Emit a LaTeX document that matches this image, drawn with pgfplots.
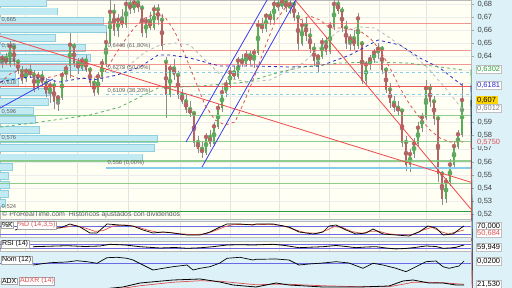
\documentclass[border=0pt]{standalone}
\usepackage{fontspec}
\setmainfont{Liberation Sans}
\usepackage{pgfplots}
\pgfplotsset{compat=1.18}
\usepackage{pgfplotstable}
\usepgfplotslibrary{fillbetween}
\definecolor{cream}{HTML}{FFFFF4}
\definecolor{rightbg}{HTML}{DDF2F8}
\definecolor{histfill}{HTML}{C2EAF3}
\definecolor{histdraw}{HTML}{8ECFE0}
\definecolor{hred}{HTML}{EE6A6A}
\definecolor{hgreen}{HTML}{7CC47C}
\definecolor{dgreen}{HTML}{2E9E3E}
\definecolor{fibblue}{HTML}{86CDEB}
\definecolor{upc}{HTML}{5AAE5A}
\definecolor{dnc}{HTML}{B56464}
\definecolor{wick}{HTML}{8C8C8C}
\definecolor{navy}{HTML}{2B2BC8}
\definecolor{chanblue}{HTML}{3A3AF0}
\definecolor{trendred}{HTML}{F04848}
\definecolor{lvlblue}{HTML}{6A6AE6}
\definecolor{dred}{HTML}{E05050}
\definecolor{momgreen}{HTML}{8DC58D}
\definecolor{momred}{HTML}{CC9898}
\definecolor{lblgray}{HTML}{606060}

\pgfplotstableread{
x o h l c
2 .636 .641 .631 .639
6 .639 .643 .634 .635
10 .634 .652 .632 .648
14 .647 .649 .633 .636
18 .636 .638 .627 .629
22 .629 .633 .619 .622
26 .623 .631 .621 .629
30 .629 .634 .624 .626
34 .626 .630 .613 .616
38 .617 .628 .615 .625
42 .625 .629 .617 .620
46 .620 .624 .609 .612
50 .612 .621 .605 .618
54 .618 .622 .600 .606
58 .606 .611 .599 .609
62 .609 .628 .607 .626
66 .626 .634 .622 .631
70 .633 .658 .624 .649
74 .648 .650 .632 .635
78 .635 .639 .627 .631
82 .631 .640 .629 .637
86 .637 .641 .628 .630
90 .630 .632 .617 .620
94 .620 .624 .610 .613
98 .613 .628 .611 .625
102 .625 .638 .621 .635
106 .635 .659 .632 .651
110 .651 .683 .648 .674
114 .674 .680 .656 .660
118 .660 .672 .655 .668
122 .668 .676 .662 .664
126 .664 .684 .662 .680
130 .680 .684 .672 .676
134 .676 .684 .673 .681
138 .681 .684 .674 .677
142 .677 .679 .655 .658
146 .658 .670 .654 .667
150 .667 .674 .660 .662
154 .662 .679 .660 .676
158 .676 .680 .664 .668
162 .668 .672 .645 .648
166 .636 .640 .593 .611
170 .611 .634 .609 .631
174 .631 .638 .622 .626
178 .626 .629 .608 .611
182 .611 .615 .604 .606
186 .606 .611 .597 .600
190 .600 .606 .594 .597
194 .597 .599 .571 .575
198 .575 .580 .567 .570
202 .570 .576 .563 .567
206 .567 .582 .565 .579
210 .579 .584 .571 .574
214 .574 .590 .572 .587
218 .587 .604 .585 .601
222 .601 .617 .598 .613
226 .613 .622 .609 .619
230 .619 .632 .616 .628
234 .628 .633 .622 .625
238 .625 .640 .623 .637
242 .637 .642 .632 .635
246 .635 .645 .633 .641
250 .641 .644 .634 .637
254 .637 .646 .631 .643
258 .643 .668 .641 .664
262 .664 .669 .658 .661
266 .661 .673 .659 .671
270 .671 .675 .664 .668
274 .668 .684 .666 .680
278 .680 .684 .675 .678
282 .678 .684 .676 .682
286 .682 .684 .674 .677
290 .677 .684 .672 .680
294 .680 .682 .667 .670
298 .670 .674 .645 .650
302 .650 .668 .648 .664
306 .664 .670 .652 .656
310 .656 .662 .643 .646
314 .646 .650 .633 .637
318 .637 .642 .628 .640
322 .640 .654 .638 .651
326 .651 .655 .641 .644
330 .644 .666 .642 .663
334 .663 .684 .660 .680
338 .680 .684 .672 .675
342 .675 .678 .659 .662
346 .662 .667 .646 .650
350 .650 .657 .644 .654
354 .654 .660 .645 .648
358 .648 .673 .646 .669
362 .650 .652 .619 .622
366 .622 .637 .619 .634
370 .634 .641 .630 .638
374 .638 .646 .635 .643
378 .643 .650 .638 .646
382 .646 .648 .627 .630
386 .630 .632 .612 .615
390 .615 .620 .601 .605
394 .605 .610 .598 .601
398 .601 .606 .596 .599
402 .599 .600 .571 .575
406 .575 .580 .553 .558
410 .558 .570 .552 .566
414 .566 .578 .563 .574
418 .574 .590 .572 .586
422 .586 .597 .583 .594
426 .594 .622 .592 .616
430 .616 .619 .602 .606
434 .606 .610 .588 .593
438 .593 .596 .545 .551
442 .551 .553 .527 .532
446 .532 .548 .529 .545
450 .545 .562 .542 .558
454 .558 .576 .556 .572
458 .572 .584 .570 .581
462 .581 .620 .579 .607
}\candles

% volume-by-price histogram: bottom, top, length
\pgfplotstableread{
lo hi len
.5249 .5325 5
.5325 .5386 8
.5386 .5462 9
.5462 .5523 8
.5523 .5599 12
.5599 .5667 142
.5667 .5743 154
.5743 .5804 157
.5804 .5880 39
.5880 .5956 35
.5956 .6017 33
.6017 .6093 48
.6093 .6169 50
.6169 .6230 18
.6230 .6290 15
.6290 .6351 85
.6351 .6427 90
.6427 .6503 85
.6503 .6579 55
.6579 .6640 106
.6640 .6701 103
.6701 .6784 57
.6784 .6830 46
}\histtab

\pgfplotstableread{
x v
33 -0.02
50 0.003
67 0.01
77 0.023
87 0.013
97 -0.003
107 0.053
117 0.057
127 0.047
133 0.03
143 -0.02
153 -0.07
163 -0.053
173 -0.037
187 -0.02
193 -0.07
200 -0.053
210 -0.037
220 0.0
227 0.047
240 0.057
253 0.03
256 0.037
276 0.04
289 0.03
299 -0.02
309 -0.01
323 0.0
336 0.013
349 0.0
363 -0.053
373 -0.003
383 -0.02
396 -0.053
406 -0.087
416 -0.037
426 0.013
436 0.02
443 -0.037
449 -0.053
459 -0.03
464 0.02
}\momtab

\pgfplotstableread{
x v
60 14
100 15
123 19.5
140 27.5
173 33.5
200 35.5
220 29.5
233 23.5
256 19.5
276 27.5
289 23.5
323 19.5
360 19.5
389 21.5
403 31.5
413 33.5
429 27.5
443 27.5
456 23.5
464 23.5
}\adxtab

\pgfplotstableread{
x v
60 14
100 15
123 17
140 22
173 29
200 32
220 31
240 27
256 24
276 25
289 25
323 22
360 20
389 20
403 25
413 29
429 29
443 28
456 26
464 25
}\adxrtab

\pgfplotsset{
  indstyle/.style={scale only axis, width=471pt, xmin=0, xmax=471,
    axis background/.style={fill=cream},
    axis line style={draw=gray!55, line width=0.4pt},
    xtick={25,77,128,180,230,279,329,379,426}, xticklabels={}, xtick style={draw=none},
    xmajorgrids, ytick=\empty, grid style={draw=gray!22, line width=0.4pt},
    clip mode=individual}
}
\tikzset{
  lab/.style={draw=gray!70, fill=white, font=\fontsize{7}{8}\selectfont, inner sep=0.8pt, anchor=west},
  rlab/.style={draw=gray!50, fill=white, font=\fontsize{7.5}{8}\selectfont, inner sep=1pt, anchor=west},
  llab/.style={font=\fontsize{5.8}{6}\selectfont, text=lblgray, inner sep=0.5pt, anchor=south west}
}

\begin{document}
\begin{tikzpicture}
\fill[rightbg] (0pt,0pt) rectangle (512pt,-288pt);

% main price axis
\begin{axis}[at={(0pt,0pt)}, anchor=north west, scale only axis, width=471pt, height=219pt,
  xmin=0, xmax=471, ymin=0.5166, ymax=0.6830,
  axis background/.style={fill=cream},
  axis line style={draw=gray!55, line width=0.4pt}, clip mode=individual,
  xtick={25,77,128,180,230,279,329,379,426}, xticklabels={}, xtick style={draw=none}, xmajorgrids,
  ytick={0.52,0.53,0.54,0.55,0.56,0.57,0.58,0.59,0.64,0.65,0.66,0.67,0.68},
  minor ytick={0.52,0.53,0.54,0.55,0.56,0.57,0.58,0.59,0.60,0.61,0.62,0.63,0.64,0.65,0.66,0.67,0.68},
  yminorgrids, minor tick length=0pt,
  ytick pos=right, yticklabel pos=right, tick align=outside, major tick length=3pt,
  ytick style={draw=gray!70, line width=0.5pt},
  grid style={draw=gray!22, line width=0.4pt}, minor grid style={draw=gray!14, line width=0.3pt},
  scaled y ticks=false,
  yticklabel style={font=\fontsize{7.5}{8}\selectfont, text=black!75},
  /pgf/number format/fixed, /pgf/number format/precision=2, /pgf/number format/fixed zerofill,
  /pgf/number format/use comma, /pgf/number format/assume math mode=true]

% volume-by-price histogram as horizontal error-bar strips
\addplot[color=histdraw, only marks, mark=none, error bars/.cd, x dir=plus, x explicit, error mark=none,
  error bar style={color=histdraw, line width=7.6pt, solid, line cap=butt}]
  table[x expr=0, y expr={(\thisrow{lo}+\thisrow{hi})/2}, x error expr={\thisrow{len}+0.6}] {\histtab};
\addplot[color=histfill, only marks, mark=none, error bars/.cd, x dir=plus, x explicit, error mark=none,
  error bar style={color=histfill, line width=6.2pt, solid, line cap=butt}]
  table[x expr=0, y expr={(\thisrow{lo}+\thisrow{hi})/2}, x error expr={\thisrow{len}}] {\histtab};

% candles: wicks
\addplot[color=wick, only marks, mark=none, error bars/.cd, y dir=both, y explicit, error mark=none,
  error bar style={color=wick, line width=0.6pt, solid}]
  table[x=x, y expr={(\thisrow{h}+\thisrow{l})/2}, y error expr={(\thisrow{h}-\thisrow{l})/2}] {\candles};
% bodies outline
\addplot[color=wick, only marks, mark=none, error bars/.cd, y dir=both, y explicit, error mark=none,
  error bar style={color=wick, line width=2.8pt, solid}]
  table[x=x, y expr={(\thisrow{o}+\thisrow{c})/2}, y error expr={abs(\thisrow{c}-\thisrow{o})/2+0.0003}] {\candles};
% up bodies
\addplot[color=upc, only marks, mark=none,
  error bars/.cd, y dir=both, y explicit, error mark=none,
  error bar style={color=upc, line width=2.0pt, solid}]
  table[x=x, y expr={\thisrow{o}+max(\thisrow{c}-\thisrow{o},0)/2}, y error expr={max(\thisrow{c}-\thisrow{o},0)/2}] {\candles};
% down bodies
\addplot[color=dnc, only marks, mark=none,
  error bars/.cd, y dir=both, y explicit, error mark=none,
  error bar style={color=dnc, line width=2.0pt, solid}]
  table[x=x, y expr={\thisrow{c}+max(\thisrow{o}-\thisrow{c},0)/2}, y error expr={max(\thisrow{o}-\thisrow{c},0)/2}] {\candles};

% horizontal support / resistance lines
\addplot[hred, line width=1.0pt, opacity=0.7] coordinates {(0,0.665) (471,0.665)};
\addplot[hred, line width=1.0pt, opacity=0.7] coordinates {(0,0.645) (471,0.645)};
\addplot[hred, line width=1.0pt, opacity=0.7] coordinates {(0,0.634) (471,0.634)};
\addplot[trendred, line width=1.2pt, opacity=0.9] coordinates {(0,0.6172) (471,0.6172)};
\addplot[hgreen, line width=1.2pt, opacity=0.85] coordinates {(0,0.5951) (471,0.5951)};
\addplot[hgreen, line width=1.2pt, opacity=0.85] coordinates {(0,0.5753) (471,0.5753)};
\addplot[hgreen, line width=1.2pt, opacity=0.85] coordinates {(0,0.5606) (471,0.5606)};
\addplot[hgreen, line width=1.2pt, opacity=0.85] coordinates {(0,0.5437) (471,0.5437)};
\addplot[dgreen, line width=1.0pt] coordinates {(0,0.5226) (471,0.5226)};
% fibonacci
\addplot[fibblue, line width=0.8pt, dashed] coordinates {(106,0.6279) (471,0.6279)};
\addplot[fibblue, line width=0.8pt, dashed] coordinates {(106,0.6109) (471,0.6109)};
\addplot[fibblue, line width=1.5pt] coordinates {(106,0.5552) (471,0.5552)};

% trend lines
\addplot[trendred, line width=0.8pt] coordinates {(0,0.6556) (471,0.5445)};
\addplot[trendred, line width=0.8pt] coordinates {(290,0.6876) (471,0.5240)};
\addplot[chanblue, line width=0.8pt] coordinates {(186,0.5751) (267,0.6830)};
\addplot[chanblue, line width=0.8pt] coordinates {(202,0.5561) (296,0.6830)};
\addplot[chanblue, line width=0.8pt] coordinates {(0,0.6009) (53,0.6230)};

% dashed curves
\addplot[dred, line width=0.8pt, dashed] coordinates {(0,.6199) (10,.6268) (20,.6298) (30,.6290) (45,.6237) (55,.6252) (65,.6275) (80,.6230) (95,.6245) (102,.6237)};
\addplot[dred, line width=0.8pt, dashed] coordinates {(105,.6283) (115,.6412) (125,.6526) (135,.6625) (145,.6693) (155,.6724) (165,.6701) (175,.6587) (185,.6412) (195,.6222) (205,.6032) (215,.5918) (225,.5880) (235,.5903) (245,.6070) (255,.6260) (265,.6473) (275,.6663) (285,.6769) (292,.6800)};
\addplot[dred, line width=0.8pt, dashed] coordinates {(300,.6678) (310,.6708) (320,.6678) (330,.6617) (345,.6617) (360,.6594) (370,.6541) (380,.6450) (390,.6313) (400,.6161) (410,.6032) (420,.5933) (430,.5842) (440,.5781) (450,.5751) (463,.5751)};
\addplot[gray!55, line width=0.8pt, dashed] coordinates {(110,.6283) (127,.6321) (145,.6435) (160,.6488) (175,.6503) (190,.6488) (205,.6374) (223,.6245) (247,.6207) (270,.6222) (303,.6351) (337,.6587) (360,.6625) (375,.6617) (390,.6541) (407,.6450) (427,.6321) (447,.6146) (463,.5994)};
\addplot[navy, line width=0.8pt, dashed] coordinates {(0,.6207) (20,.6237) (30,.6245) (50,.6222) (60,.6207) (83,.6237) (93,.6222) (117,.6260) (140,.6321) (158,.6412) (170,.6412) (190,.6389) (220,.6328) (255,.6328) (290,.6321) (320,.6328) (350,.6412) (378,.6526) (400,.6488) (420,.6389) (440,.6313) (463,.6177)};
\addplot[dgreen!80, line width=0.8pt, dashed] coordinates {(0,.5865) (40,.5903) (90,.5956) (120,.6017) (158,.6161) (200,.6176) (247,.6207) (280,.6283) (303,.6321) (340,.6351) (373,.6359) (407,.6351) (440,.6321) (463,.6298)};

% left level labels
\node[llab] at (axis cs:1,0.6655) {0,665};
\node[llab] at (axis cs:1,0.6455) {0,645};
\node[llab] at (axis cs:1,0.6345) {0,634};
\node[llab] at (axis cs:1,0.6177) {0,618};
\node[llab] at (axis cs:1,0.5957) {0,596};
\node[llab] at (axis cs:1,0.5759) {0,576};
\node[llab] at (axis cs:1,0.5232) {0,524};
\node[llab] at (axis cs:107,0.6455) {0,6448 (61,80\%)};
\node[llab] at (axis cs:107,0.6284) {0,6279 (50,00\%)};
\node[llab] at (axis cs:107,0.6114) {0,6109 (38,20\%)};
\node[llab] at (axis cs:107,0.5562) {0,556 (0,00\%)};
\node[font=\fontsize{7}{8}\selectfont, text=lblgray, anchor=west, inner sep=0pt] at (axis cs:2,0.5202) {\textcopyright\ ProRealTime.com\ \ Históricos ajustados con dividendos};

% right value boxes
\draw[dgreen, line width=0.6pt] (axis cs:471,0.6302) -- ++(5pt,0);
\node[rlab, text=dgreen] at (axis cs:476,0.6302) {0,6302};
\draw[navy, line width=0.6pt] (axis cs:471,0.6181) -- ++(5pt,0);
\node[rlab, text=navy] at (axis cs:476,0.6181) {0,6181};
\draw[black, line width=0.6pt] (axis cs:471,0.607) -- ++(5pt,0);
\node[rlab, fill={rgb,255:red,255;green,214;blue,0}, draw=none] at (axis cs:476,0.6068) {0,607\,};
\draw[gray, line width=0.6pt] (axis cs:471,0.6012) -- ++(5pt,0);
\node[rlab, text=gray] at (axis cs:476,0.6006) {0,6012};
\draw[dred, line width=0.6pt] (axis cs:471,0.575) -- ++(5pt,0);
\node[rlab, text=dred, draw=none, fill=rightbg] at (axis cs:476,0.575) {0,5750};
\end{axis}

% %K / %D panel
\begin{axis}[at={(0pt,-221pt)}, anchor=north west, indstyle, height=16pt, ymin=-2.5, ymax=117.5]
\addplot[lvlblue, line width=0.8pt] coordinates {(0,80) (471,80)};
\addplot[lvlblue, line width=0.8pt] coordinates {(0,20) (471,20)};
\addplot[dred, line width=0.7pt] coordinates {(20,55) (35,70) (50,65) (65,70) (75,85) (85,65) (95,40) (103,45) (113,80) (125,88) (138,72) (148,48) (158,33) (168,33) (180,22) (192,15) (205,20) (215,45) (225,75) (233,90) (245,92) (258,90) (270,93) (283,82) (295,52) (305,30) (318,25) (327,50) (334,75) (342,70) (352,38) (362,25) (370,40) (378,42) (388,22) (400,12) (412,15) (423,50) (432,70) (440,40) (448,20) (456,35) (464,50)};
\addplot[black, line width=0.7pt] coordinates {(15,50) (30,80) (45,57.5) (60,65) (70,95) (80,72.5) (90,27.5) (97,27.5) (107,95) (120,87.5) (133,80) (143,50) (153,27.5) (163,35) (173,27.5) (187,12.5) (200,12.5) (210,35) (220,72.5) (227,95) (240,95) (253,87.5) (256,95) (273,95) (289,72.5) (299,35) (313,20) (323,35) (329,80) (336,87.5) (346,50) (356,20) (366,27.5) (373,57.5) (383,20) (396,12.5) (409,5) (419,35) (428,80) (436,65) (443,12.5) (453,20) (461,65) (464,80)};
\node[lab] at (axis cs:1,87.5) {\%K};
\node[lab, text=dred] at (axis cs:17,87.5) {\%D (14,3,5)};
\node[rlab] at (axis cs:476,80) {70,000};
\node[rlab, text=dred] at (axis cs:476,27.5) {50,684};
\end{axis}

% RSI panel
\begin{axis}[at={(0pt,-241pt)}, anchor=north west, indstyle, height=10pt, ymin=0, ymax=100]
\addplot[lvlblue, line width=0.8pt] coordinates {(0,70) (471,70)};
\addplot[lvlblue, line width=0.8pt] coordinates {(0,30) (471,30)};
\addplot[black, line width=0.8pt] coordinates {(33,43) (50,48) (67,53) (85,45) (100,50) (110,67) (125,60) (140,43) (160,30) (175,35) (187,27) (200,32) (213,43) (227,60) (240,63) (253,60) (273,67) (285,55) (299,33) (310,38) (323,43) (336,55) (346,45) (356,33) (366,40) (376,43) (386,30) (396,21) (405,25) (413,33) (426,50) (436,45) (443,27) (450,30) (456,37) (464,59.9)};
\node[lab] at (axis cs:1,70) {RSI (14)};
\node[rlab] at (axis cs:476,40) {59,949};
\end{axis}

% Momentum panel
\begin{axis}[at={(0pt,-253pt)}, anchor=north west, indstyle, height=20pt, ymin=-0.1, ymax=0.1]
\addplot[name path=zero, draw=none] coordinates {(0,0) (471,0)};
\addplot[name path=mompos, draw=none] table[x=x, y expr={max(\thisrow{v},0)}] {\momtab};
\addplot[name path=momneg, draw=none] table[x=x, y expr={min(\thisrow{v},0)}] {\momtab};
\addplot[fill=momgreen, draw=none] fill between[of=mompos and zero];
\addplot[fill=momred, draw=none] fill between[of=momneg and zero];
\addplot[lvlblue, line width=0.8pt] coordinates {(0,0) (471,0)};
\addplot[black, line width=0.7pt] table[x=x, y=v] {\momtab};
\node[lab] at (axis cs:1,0.03) {Nom (12)};
\node[rlab] at (axis cs:476,0.02) {0,0200};
\end{axis}

% ADX panel
\begin{axis}[at={(0pt,-277pt)}, anchor=north west, indstyle, height=14pt, ymin=11.5, ymax=39.5]
\addplot[name path=adx, draw=none] table[x=x, y=v] {\adxtab};
\addplot[name path=adxr, draw=none] table[x=x, y=v] {\adxrtab};
\addplot[fill=lvlblue, fill opacity=0.45, draw=none] fill between[of=adx and adxr];
\addplot[dred, line width=0.7pt] table[x=x, y=v] {\adxrtab};
\addplot[black, line width=0.8pt] table[x=x, y=v] {\adxtab};
\node[lab] at (axis cs:1,31.5) {ADX};
\node[lab, text=dred] at (axis cs:19,31.5) {ADXR (14)};
\node[rlab] at (axis cs:476,24.5) {21,530};
\end{axis}

\pgfresetboundingbox
\useasboundingbox (0pt,0pt) rectangle (512pt,-288pt);
\end{tikzpicture}
\end{document}
